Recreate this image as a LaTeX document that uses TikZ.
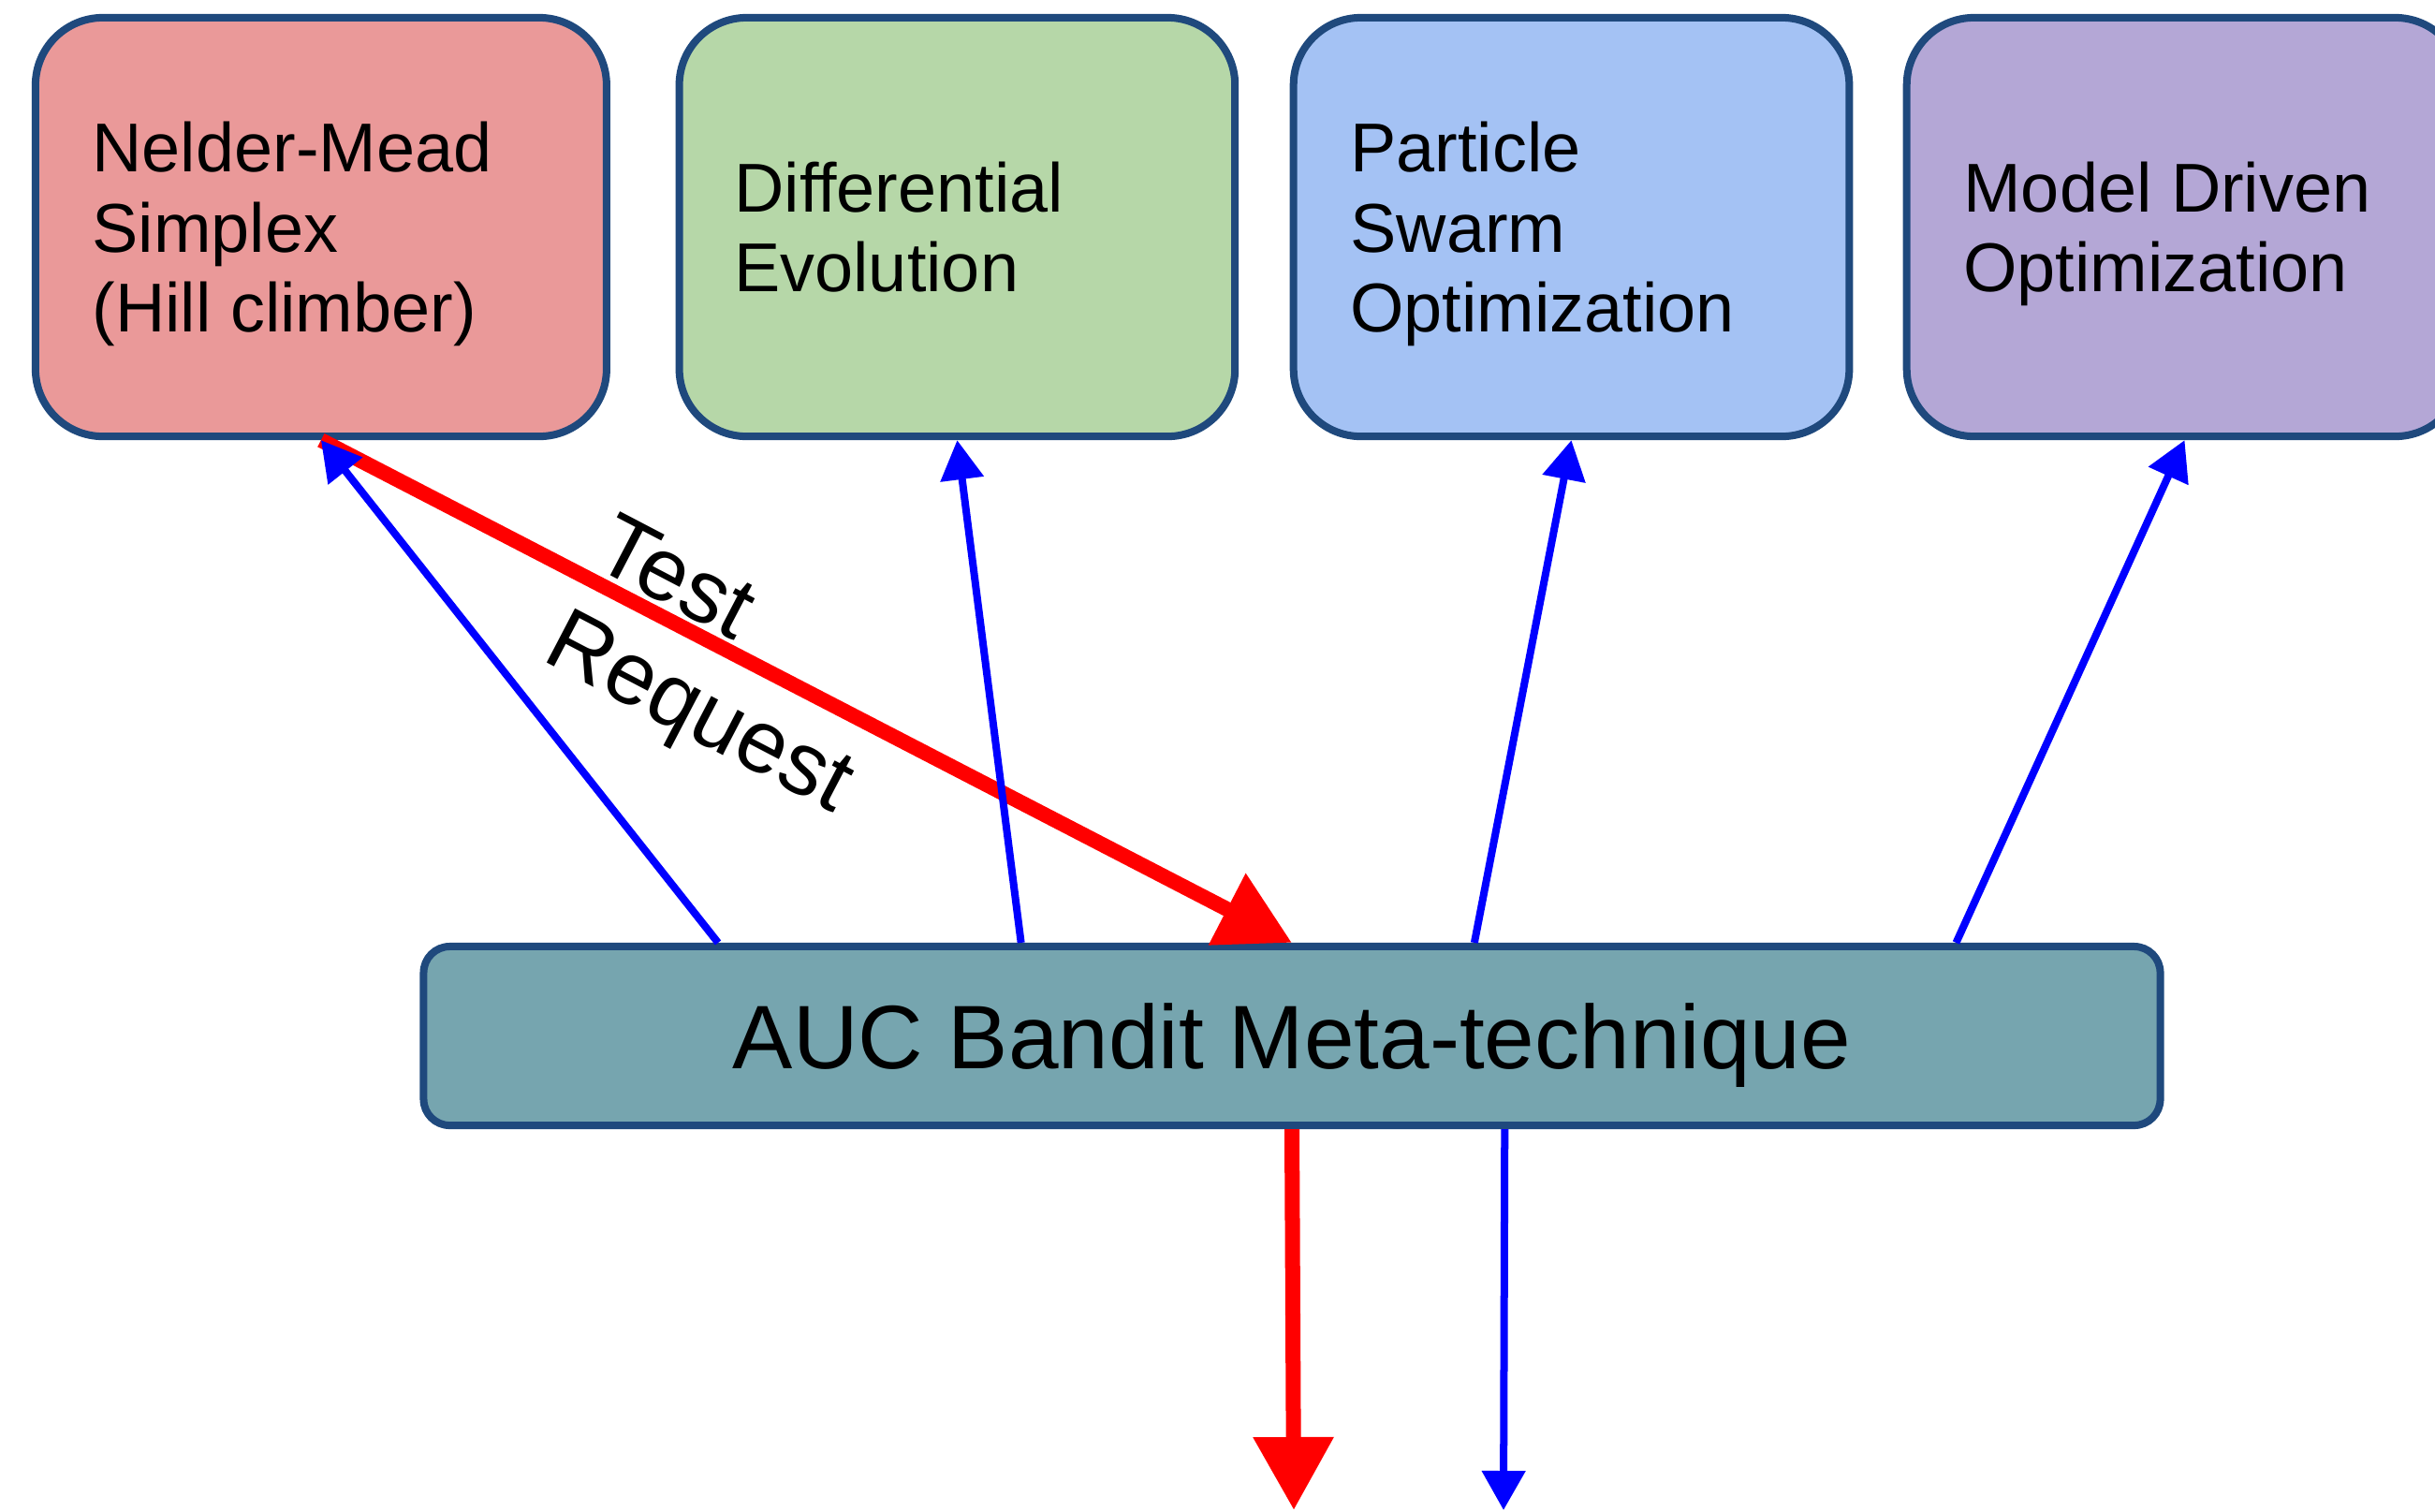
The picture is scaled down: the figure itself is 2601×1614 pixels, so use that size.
\documentclass[tikz,border=0pt]{standalone}
\usepackage{fontspec}
\setmainfont{Liberation Sans}
\usetikzlibrary{arrows.meta,calc}
\definecolor{bordercol}{RGB}{31,73,125}
\definecolor{pinkc}{RGB}{234,153,153}
\definecolor{greenc}{RGB}{182,215,168}
\definecolor{bluec}{RGB}{164,194,244}
\definecolor{purplec}{RGB}{180,167,214}
\definecolor{aucc}{RGB}{118,165,175}
\tikzset{
  optbox/.style={draw=bordercol, line width=0.08cm, rounded corners=0.72cm,
    minimum height=4.47cm, inner sep=0pt},
  optext/.style={anchor=west, align=left, inner sep=0pt, text depth=0pt,
    font=\fontsize{21}{24.3}\selectfont},
  redarrow/.style={draw=red, line width=0.16cm,
    -{Triangle[length=0.78cm,width=0.82cm]}},
  bluearrow/.style={draw=blue, line width=0.08cm,
    -{Triangle[length=0.42cm,width=0.45cm]}},
}
\begin{document}
\begin{tikzpicture}[x=0.01cm,y=-0.01cm]
\clip (0,0) rectangle (2601,1614);
% technique boxes
\node[optbox, fill=pinkc, minimum width=6.097cm] (b1) at (342.9,242.5) {};
\node[optbox, fill=greenc, minimum width=5.933cm] (b2) at (1022.4,242.5) {};
\node[optbox, fill=bluec, minimum width=5.933cm] (b3) at (1678.5,242.5) {};
\node[optbox, fill=purplec, minimum width=5.933cm] (b4) at (2333.5,242.5) {};
\node[optext] (t1) at ([xshift=0.64cm]b1.west) {Nelder-Mead\\Simplex\\(Hill climber)};
\node[optext] (t2) at ([xshift=0.62cm]b2.west) {Differential\\Evolution};
\node[optext] (t3) at ([xshift=0.64cm]b3.west) {Particle\\Swarm\\Optimization};
\node[optext] (t4) at ([xshift=0.64cm]b4.west) {Model Driven\\Optimization};
% meta technique
\node[draw=bordercol, fill=aucc, line width=0.08cm, rounded corners=0.28cm,
  minimum width=18.54cm, minimum height=1.91cm, inner sep=0pt, text depth=0pt,
  font=\fontsize{27.4}{33}\selectfont] (auc) at (1380,1106.5) {AUC Bandit Meta-technique};
% connector points
\coordinate (a1) at ($(auc.north west)!0.171!(auc.north east)$);
\coordinate (a2) at ($(auc.north west)!0.3447!(auc.north east)$);
\coordinate (a3) at ($(auc.north west)!0.6046!(auc.north east)$);
\coordinate (a4) at ($(auc.north west)!0.8808!(auc.north east)$);
\coordinate (d2) at ($(auc.south west)!0.622!(auc.south east)$);
\coordinate (e1) at (1382,1613);
\coordinate (e2) at (1606,1613);
% red path
\draw[redarrow] (b1.south) -- (auc.north);
\draw[redarrow] (auc.south) -- (e1);
% blue arrows
\draw[bluearrow] (a1) -- (b1.south);
\draw[bluearrow] (a2) -- (b2.south);
\draw[bluearrow] (a3) -- (b3.south);
\draw[bluearrow] (a4) -- (b4.south);
\draw[bluearrow] (d2) -- (e2);
% label
\node[font=\fontsize{27}{32.4}\selectfont, align=left, inner sep=0pt, rotate=-27.6]
  (lbl) at (771,716) {Test\\Request};
\end{tikzpicture}
\end{document}
